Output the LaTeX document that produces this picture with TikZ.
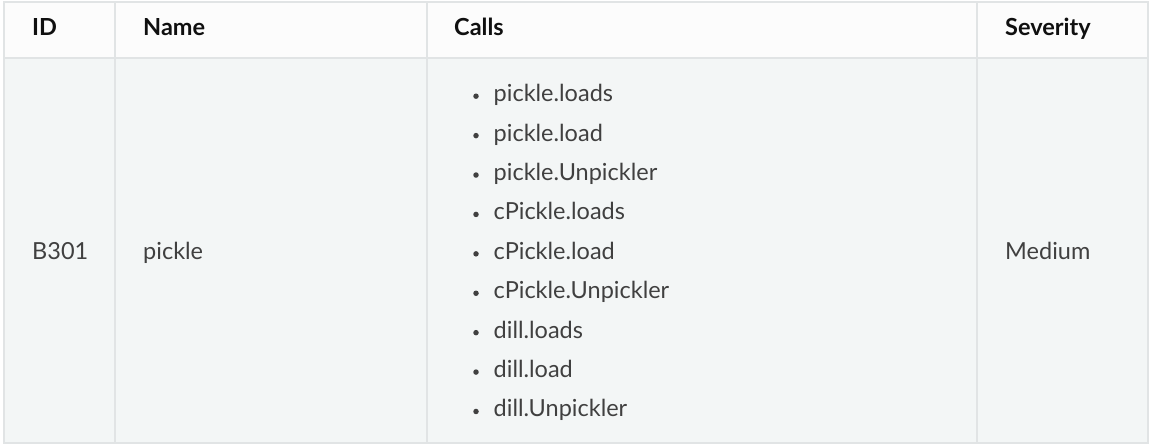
\documentclass[tikz,border=0pt]{standalone}
\usepackage{fontspec}
\setmainfont{Lato}
\definecolor{gridc}{HTML}{E1E4E5}
\definecolor{rowbg}{HTML}{F3F6F6}
\definecolor{headbg}{HTML}{FCFCFC}
\definecolor{bodytxt}{HTML}{404040}
\definecolor{headtxt}{HTML}{101010}
\tikzset{
  headcell/.style={anchor=base west, inner sep=0pt, font=\fontsize{23.5}{28}\selectfont\bfseries, text=headtxt},
  bodycell/.style={anchor=base west, inner sep=0pt, font=\fontsize{23.5}{28}\selectfont, text=bodytxt},
  bulletdot/.style={circle, fill=bodytxt, inner sep=0pt, minimum size=5.5pt},
  gridline/.style={draw=gridc, line width=1.4pt},
}
\begin{document}
\begin{tikzpicture}[x=1pt,y=-1pt]
\useasboundingbox (0,0) rectangle (1150,447);
\fill[white] (0,0) rectangle (1150,447);
% backgrounds
\fill[headbg] (4,2) rectangle (1148,58);
\fill[rowbg] (4,58) rectangle (1148,443);
% grid
\draw[gridline] (4,2) rectangle (1148,443);
\draw[draw=gridc, line width=2.8pt] (4,58) -- (1148,58);
\draw[gridline] (115,2) -- (115,443);
\draw[gridline] (427,2) -- (427,443);
\draw[gridline] (977,2) -- (977,443);
% header
\node[headcell] (hid) at (32,35.3) {ID};
\node[headcell] (hname) at (143,35.3) {Name};
\node[headcell] (hcalls) at (454,35.3) {Calls};
\node[headcell] (hsev) at (1005,35.3) {Severity};
% body
\node[bodycell] (bid) at (32,259.3) {B301};
\node[bodycell] (bname) at (143,259.3) {pickle};
\node[bodycell] (bsev) at (1005,259.3) {Medium};
\foreach \t [count=\i] in {pickle.loads,pickle.load,pickle.Unpickler,cPickle.loads,cPickle.load,cPickle.Unpickler,dill.loads,dill.load,dill.Unpickler}{
  \node[bodycell] (c\i) at (493.5,{101.7+(\i-1)*39.41}) {\t};
  \node[bulletdot] (b\i) at (476,{101.7+(\i-1)*39.41-5.5}) {};
}
\end{tikzpicture}
\end{document}
